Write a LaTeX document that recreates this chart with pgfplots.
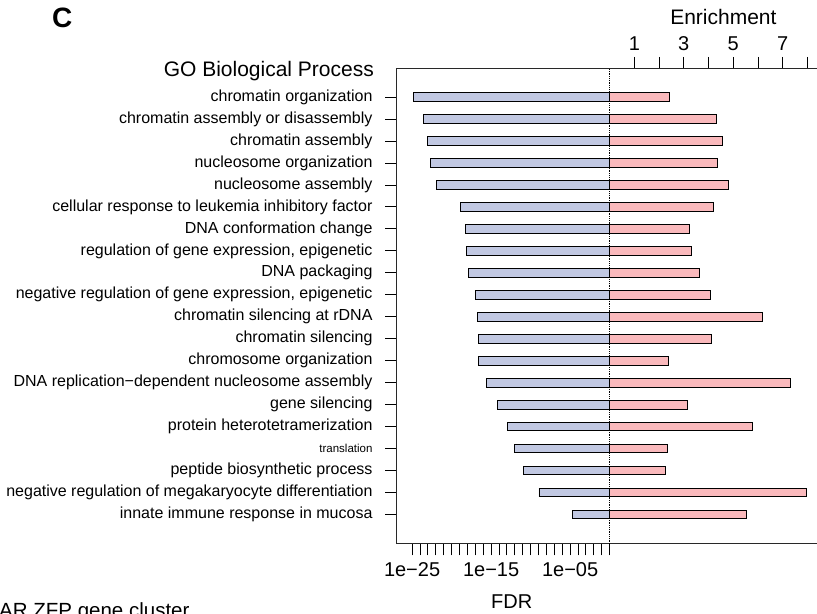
\documentclass[border=0pt]{standalone}
\usepackage{fontspec}
\setmainfont{Liberation Sans}
\usepackage{pgfplots}
\usepackage{pgfplotstable}
\pgfplotsset{compat=1.18}

\definecolor{fdrblue}{RGB}{193,200,226}
\definecolor{enrpink}{RGB}{250,185,188}
\definecolor{frame}{RGB}{40,40,40}

% idx: row (top to bottom), fdr: false discovery rate, enr: fold enrichment
\pgfplotstableread{
idx fdr      enr
0   1.41e-25 2.41
1   2.95e-24 4.33
2   7.76e-24 4.56
3   2.00e-23 4.37
4   1.07e-22 4.79
5   1.26e-19 4.18
6   5.37e-19 3.22
7   7.24e-19 3.30
8   1.20e-18 3.63
9   1.12e-17 4.07
10  1.78e-17 6.17
11  2.69e-17 4.13
12  2.69e-17 2.39
13  2.75e-16 7.31
14  6.03e-15 3.14
15  1.12e-13 5.79
16  7.94e-13 2.35
17  1.20e-11 2.25
18  1.15e-09 7.94
19  1.91e-05 5.52
}\godata

\begin{document}
\begin{tikzpicture}
\useasboundingbox (0,0) rectangle (817bp,614bp);
\clip (0,0) rectangle (817bp,614bp);

% left half: FDR on a log scale, bars grow leftwards from FDR = 1
\begin{axis}[
  at={(397bp,70.7bp)}, anchor=south west,
  scale only axis, width=440bp, height=474.3bp,
  xmode=log, log basis x=10, xmin=1.23e-27, xmax=6.0e28,
  ymin=-1.279, ymax=20.311, y dir=reverse,
  axis line style={frame, line width=1bp},
  tick style={black, line width=0.9bp},
  tick align=outside, major tick length=12bp, minor tick length=12bp,
  xtick pos=lower, ytick pos=left,
  xtick={1e-25,1e-15,1e-5},
  xticklabels={1e−25,1e−15,1e−05},
  minor xtick={1e-24,1e-23,1e-22,1e-21,1e-20,1e-19,1e-18,1e-17,1e-16,
               1e-14,1e-13,1e-12,1e-11,1e-10,1e-9,1e-8,1e-7,1e-6,
               1e-4,1e-3,1e-2,1e-1,1},
  xticklabel style={font=\fontsize{20bp}{24bp}\selectfont, yshift=-4bp},
  ytick={0,...,19},
  yticklabels={
    chromatin organization,
    chromatin assembly or disassembly,
    chromatin assembly,
    nucleosome organization,
    nucleosome assembly,
    cellular response to leukemia inhibitory factor,
    DNA conformation change,
    {regulation of gene expression, epigenetic},
    DNA packaging,
    {negative regulation of gene expression, epigenetic},
    chromatin silencing at rDNA,
    chromatin silencing,
    chromosome organization,
    DNA replication−dependent nucleosome assembly,
    gene silencing,
    protein heterotetramerization,
    {\fontsize{11.5bp}{14bp}\selectfont translation},
    peptide biosynthetic process,
    negative regulation of megakaryocyte differentiation,
    innate immune response in mucosa},
  yticklabel style={font=\fontsize{16bp}{19bp}\selectfont, xshift=-9bp},
]
\addplot[xbar, bar width=8.6bp, fill=fdrblue, draw=black, line width=0.9bp]
  table[x=fdr, y=idx] {\godata};
\addplot[black, densely dotted, line width=0.8bp]
  coordinates {(1,-1.279) (1,20.311)};
\end{axis}

% right half: fold enrichment on a linear scale
\begin{axis}[
  at={(397bp,70.7bp)}, anchor=south west,
  scale only axis, width=440bp, height=474.3bp,
  xmin=-8.597, xmax=9.195,
  ymin=-1.279, ymax=20.311, y dir=reverse,
  axis x line*=top, hide y axis,
  axis line style={frame, line width=1bp},
  tick style={black, line width=0.9bp},
  tick align=outside, major tick length=12bp,
  xtick={1,...,8}, xticklabels={1,,3,,5,,7,},
  xticklabel style={font=\fontsize{20bp}{24bp}\selectfont, yshift=3bp},
]
\addplot[xbar, bar width=8.6bp, fill=enrpink, draw=black, line width=0.9bp]
  table[x=enr, y=idx] {\godata};
\end{axis}

\node[anchor=base west, inner sep=0pt, font=\fontsize{28bp}{32bp}\bfseries\selectfont]
  at (52bp,586bp) {C};
\node[anchor=base, inner sep=0pt, font=\fontsize{21bp}{25bp}\selectfont]
  at (268.8bp,537bp) {GO Biological Process};
\node[anchor=base, inner sep=0pt, font=\fontsize{21bp}{25bp}\selectfont]
  at (723.4bp,589bp) {Enrichment};
\node[anchor=base, inner sep=0pt, font=\fontsize{20bp}{24bp}\selectfont]
  at (511.7bp,5.7bp) {FDR};
\node[anchor=base west, inner sep=0pt, font=\fontsize{20.5bp}{24bp}\selectfont]
  at (-1bp,-3.5bp) {AR ZFP gene cluster};
\end{tikzpicture}
\end{document}
